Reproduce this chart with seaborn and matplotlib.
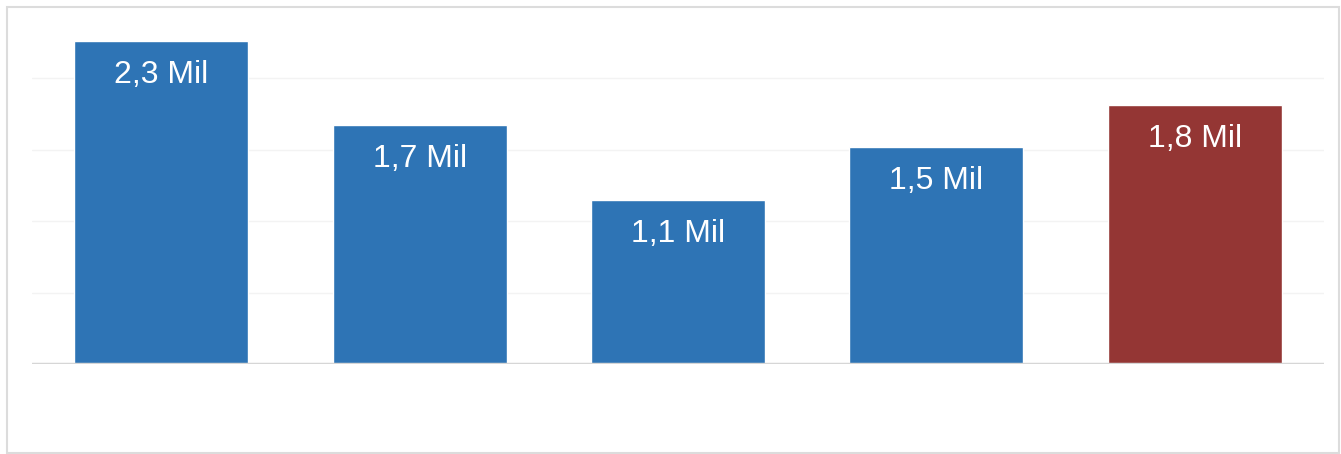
import matplotlib
matplotlib.use("Agg")
import matplotlib.pyplot as plt
import seaborn as sns
import pandas as pd
from matplotlib.patches import Rectangle

# data
categories = ["A", "B", "C", "D", "E"]
values = [2.26, 1.67, 1.15, 1.52, 1.81]
labels = ["2,3 Mil", "1,7 Mil", "1,1 Mil", "1,5 Mil", "1,8 Mil"]
bar_colors = ["#2e74b5", "#2e74b5", "#2e74b5", "#2e74b5", "#943634"]

df = pd.DataFrame({"cat": categories, "val": values})

sns.set_style("white")
plt.rcParams["font.family"] = ["Liberation Sans", "DejaVu Sans"]

fig = plt.figure(figsize=(13.41, 4.54), dpi=100)
ax = fig.add_axes([32 / 1341, 90 / 454, 1292 / 1341, 343 / 454])

sns.barplot(data=df, x="cat", y="val", hue="cat", palette=bar_colors,
            width=0.673, legend=False, saturation=1, ax=ax)

ax.set_xlim(-0.5, 4.5)
ax.set_ylim(0, 2.4)
ax.set_yticks([0.5, 1.0, 1.5, 2.0])
ax.grid(axis="y", color="#f3f3f3", linewidth=1)
ax.set_axisbelow(True)
ax.axhline(0, color="#d6d6d6", linewidth=2.5, zorder=5)

for i, (v, lab) in enumerate(zip(values, labels)):
    ax.annotate(lab, (i, v), xytext=(0, -24.5), textcoords="offset points",
                ha="center", va="center", color="white", fontsize=23)

ax.set_xticks([])
ax.set_yticklabels([])
ax.tick_params(left=False, bottom=False)
ax.set_xlabel("")
ax.set_ylabel("")
for s in ax.spines.values():
    s.set_visible(False)

# light frame around the whole chart
fig.add_artist(Rectangle((7 / 1341, 1.5 / 454), 1332 / 1341, 446 / 454,
                         transform=fig.transFigure, fill=False,
                         edgecolor="#dcdcdc", linewidth=1.5))

fig.savefig("out.png", dpi=100)
